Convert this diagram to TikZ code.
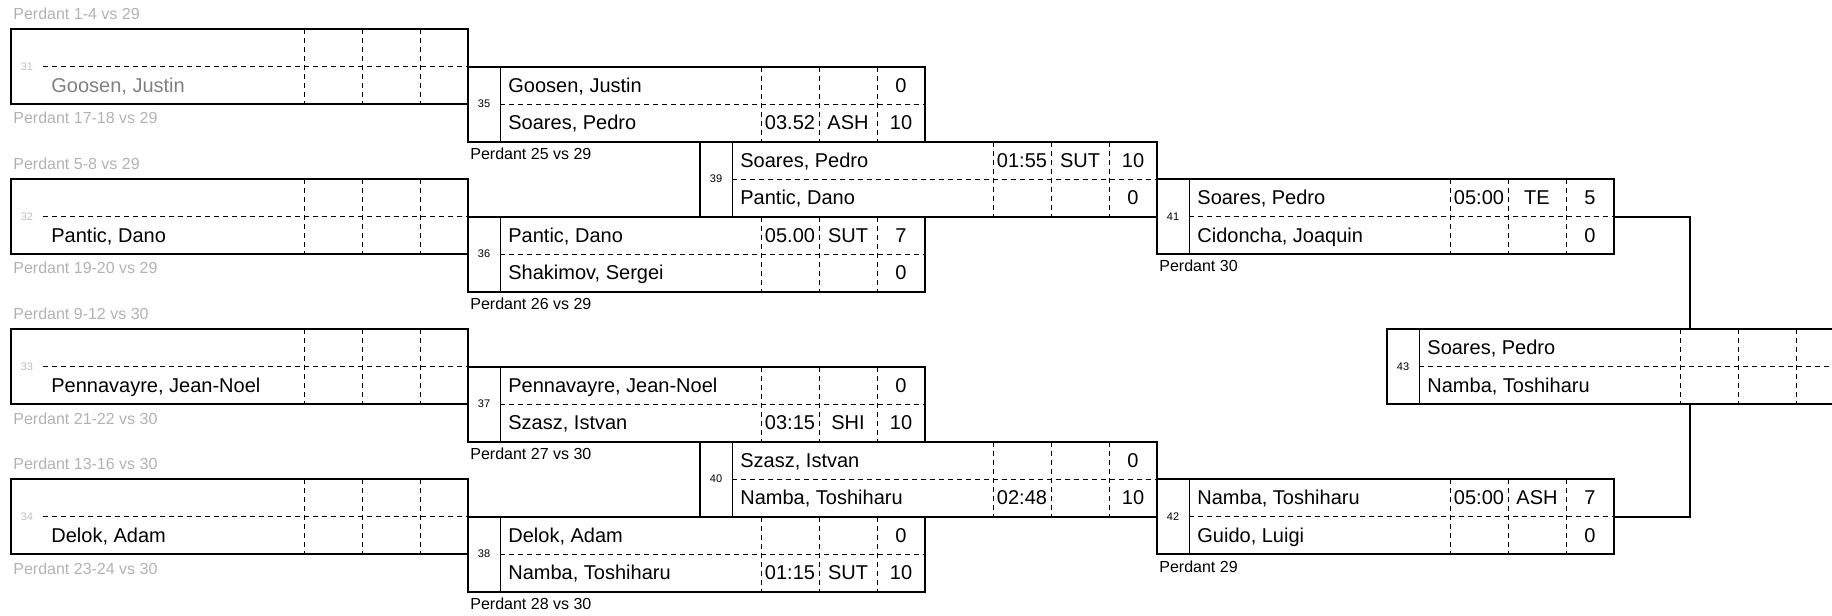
\documentclass[tikz,border=0pt]{standalone}
\usepackage{fontspec}
\setmainfont{Liberation Sans}

\newcommand{\nomfont}{\fontsize{10}{12}\selectfont}

%casella di un incontro: #2 numero, #3 x, #4 y
\newcommand{\boitecombat}[4][]{%
	\begin{scope}[shift={(#3,#4)},#1]
		\node[boite] (b#2) at (228.5,37.5) {};
		\draw[fin] (32,0) -- (32,75);
		\draw[tiret] (32,37.5) -- (457,37.5);
		\foreach \c in {293,351,409}
			\draw[tiret] (\c,0) -- (\c,75);
		\node[numero] (n#2) at (16,37.5) {#2};
	\end{scope}}

%riga: #1 casella, #2 riga, #3 nome, #4 tempo, #5 codice, #6 punti
\newcommand{\ligne}[6]{%
	\path (b#1.north west) ++(0,{37.5*#2-18.75}) coordinate (r#1-#2)
		++(40,0) node[nom] (nom#1-#2) {#3}
		(r#1-#2) ++(322,0) node[case] (t#1-#2) {#4}
		(r#1-#2) ++(380,0) node[case] (c#1-#2) {#5}
		(r#1-#2) ++(433,0) node[case] (s#1-#2) {#6};}

\begin{document}
\begin{tikzpicture}[x=0.5pt,y=-0.5pt,
		boite/.style={draw,line width=1pt,inner sep=0,outer sep=0,
			minimum width=228.5pt,minimum height=37.5pt},
		fin/.style={line width=0.5pt},
		tiret/.style={line width=0.5pt,dash pattern=on 2.5pt off 2pt},
		numero/.style={inner sep=0,font=\fontsize{5.5}{6}\selectfont},
		nom/.style={anchor=base west,inner sep=0,yshift=-3.6pt,font=\nomfont},
		case/.style={anchor=base,inner sep=0,yshift=-3.6pt,font=\nomfont},
		perdant/.style={inner sep=0,font=\fontsize{8}{10}\selectfont},
		pale/.style={fin/.append style={draw=none},numero/.append style={gray!50}},
		trait/.style={line width=1pt}]
	\clip (0,0) rectangle (1832,616);
	
	%caselle di partenza
	\boitecombat[pale]{31}{11}{29}
	\boitecombat[pale]{32}{11}{179}
	\boitecombat[pale]{33}{11}{329}
	\boitecombat[pale]{34}{11}{479}
	\ligne{31}{2}{\textcolor{gray}{Goosen, Justin}}{}{}{}
	\ligne{32}{2}{Pantic, Dano}{}{}{}
	\ligne{33}{2}{Pennavayre, Jean-Noel}{}{}{}
	\ligne{34}{2}{Delok, Adam}{}{}{}
	\node[perdant,text=gray!60,anchor=south west] (h31) at ([shift={(2,-9)}]b31.north west) {Perdant 1-4 vs 29};
	\node[perdant,text=gray!60,anchor=north west] (l31) at ([shift={(2,8)}]b31.south west) {Perdant 17-18 vs 29};
	\node[perdant,text=gray!60,anchor=south west] (h32) at ([shift={(2,-9)}]b32.north west) {Perdant 5-8 vs 29};
	\node[perdant,text=gray!60,anchor=north west] (l32) at ([shift={(2,8)}]b32.south west) {Perdant 19-20 vs 29};
	\node[perdant,text=gray!60,anchor=south west] (h33) at ([shift={(2,-9)}]b33.north west) {Perdant 9-12 vs 30};
	\node[perdant,text=gray!60,anchor=north west] (l33) at ([shift={(2,8)}]b33.south west) {Perdant 21-22 vs 30};
	\node[perdant,text=gray!60,anchor=south west] (h34) at ([shift={(2,-9)}]b34.north west) {Perdant 13-16 vs 30};
	\node[perdant,text=gray!60,anchor=north west] (l34) at ([shift={(2,8)}]b34.south west) {Perdant 23-24 vs 30};
	
	%primo turno
	\boitecombat{35}{468}{66.5}
	\ligne{35}{1}{Goosen, Justin}{}{}{0}
	\ligne{35}{2}{Soares, Pedro}{03.52}{ASH}{10}
	\boitecombat{36}{468}{216.5}
	\ligne{36}{1}{Pantic, Dano}{05.00}{SUT}{7}
	\ligne{36}{2}{Shakimov, Sergei}{}{}{0}
	\boitecombat{37}{468}{366.5}
	\ligne{37}{1}{Pennavayre, Jean-Noel}{}{}{0}
	\ligne{37}{2}{Szasz, Istvan}{03:15}{SHI}{10}
	\boitecombat{38}{468}{516.5}
	\ligne{38}{1}{Delok, Adam}{}{}{0}
	\ligne{38}{2}{Namba, Toshiharu}{01:15}{SUT}{10}
	\node[perdant,anchor=north west] (l35) at ([shift={(2,6)}]b35.south west) {Perdant 25 vs 29};
	\node[perdant,anchor=north west] (l36) at ([shift={(2,6)}]b36.south west) {Perdant 26 vs 29};
	\node[perdant,anchor=north west] (l37) at ([shift={(2,6)}]b37.south west) {Perdant 27 vs 30};
	\node[perdant,anchor=north west] (l38) at ([shift={(2,6)}]b38.south west) {Perdant 28 vs 30};
	
	%secondo turno
	\boitecombat{39}{700}{141.5}
	\ligne{39}{1}{Soares, Pedro}{01:55}{SUT}{10}
	\ligne{39}{2}{Pantic, Dano}{}{}{0}
	\boitecombat{40}{700}{441.5}
	\ligne{40}{1}{Szasz, Istvan}{}{}{0}
	\ligne{40}{2}{Namba, Toshiharu}{02:48}{}{10}
	
	%terzo turno
	\boitecombat{41}{1157}{179}
	\ligne{41}{1}{Soares, Pedro}{05:00}{TE}{5}
	\ligne{41}{2}{Cidoncha, Joaquin}{}{}{0}
	\boitecombat{42}{1157}{479}
	\ligne{42}{1}{Namba, Toshiharu}{05:00}{ASH}{7}
	\ligne{42}{2}{Guido, Luigi}{}{}{0}
	\node[perdant,anchor=north west] (l41) at ([shift={(2,6)}]b41.south west) {Perdant 30};
	\node[perdant,anchor=north west] (l42) at ([shift={(2,6)}]b42.south west) {Perdant 29};
	
	%finale
	\boitecombat{43}{1387}{329}
	\ligne{43}{1}{Soares, Pedro}{}{}{}
	\ligne{43}{2}{Namba, Toshiharu}{}{}{}
	\coordinate (j43h) at (1690,329);
	\coordinate (j43b) at (1690,404);
	\draw[trait] (b41.east) -| (j43h);
	\draw[trait] (b42.east) -| (j43b);
\end{tikzpicture}
\end{document}
